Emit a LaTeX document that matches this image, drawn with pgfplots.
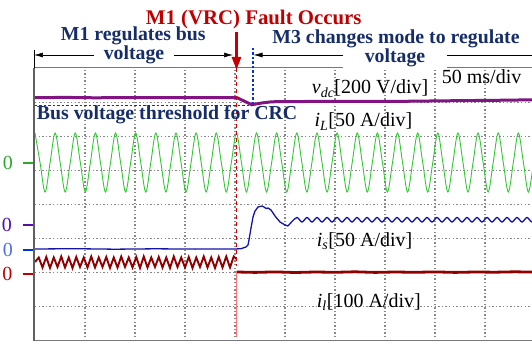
\documentclass[border=0pt]{standalone}
\usepackage{fontspec}
\setmainfont{Liberation Serif}
\usepackage{pgfplots}
\pgfplotsset{compat=1.18}
\usetikzlibrary{arrows.meta}
\definecolor{navy}{RGB}{22,45,105}
\definecolor{titlered}{RGB}{192,0,0}
\definecolor{vdccol}{RGB}{128,20,130}
\definecolor{ilcol}{RGB}{50,200,50}
\definecolor{iscol}{RGB}{20,20,170}
\definecolor{i1col}{RGB}{145,0,0}
\definecolor{thrcol}{RGB}{0,50,220}
\definecolor{framecol}{RGB}{120,120,120}
\definecolor{gridcol}{RGB}{135,135,135}
\newcommand{\lbl}{\fontsize{20}{24}\selectfont}
\newcommand{\hdr}{\bfseries\fontsize{19.8}{23}\selectfont}
\begin{document}
\begin{tikzpicture}
\useasboundingbox (-35pt,-2pt) rectangle (497pt,341pt);
\begin{axis}[
  at={(0,0)}, anchor=south west,
  x=1pt, y=1pt,
  xmin=0, xmax=497, ymin=0, ymax=273,
  axis line style={draw=none},
  xtick={50,100,150,200,250,300,350,400,450},
  ytick={34.125,68.25,102.375,136.5,170.625,204.75,238.875},
  xticklabels={}, yticklabels={},
  tick style={draw=none},
  grid=major,
  major grid style={draw=gridcol, line width=1.1pt, dash pattern=on 1.4pt off 2.2pt},
  clip mode=individual,
]
% i_L (green)
\addplot[ilcol, line width=0.9pt, smooth, tension=0.55] coordinates {
(0,208) (5.035,178.5) (10.07,149) (15.105,178.5) (20.14,208) (25.175,178.5) (30.21,149) (35.245,178.5)
(40.28,208) (45.315,178.5) (50.35,149) (55.385,178.5) (60.42,208) (65.455,178.5) (70.49,149) (75.525,178.5)
(80.56,208) (85.595,178.5) (90.63,149) (95.665,178.5) (100.7,208) (105.735,178.5) (110.77,149) (115.805,178.5)
(120.84,208) (125.875,178.5) (130.91,149) (135.945,178.5) (140.98,208) (146.015,178.5) (151.05,149) (156.085,178.5)
(161.12,208) (166.155,178.5) (171.19,149) (176.225,178.5) (181.26,208) (186.295,178.5) (191.33,149) (196.365,178.5)
(201.4,208) (206.435,178.5) (211.47,149) (216.505,178.5) (221.54,208) (226.575,178.5) (231.61,149) (236.645,178.5)
(241.68,208) (246.715,178.5) (251.75,149) (256.785,178.5) (261.82,208) (266.855,178.5) (271.89,149) (276.925,178.5)
(281.96,208) (286.995,178.5) (292.03,149) (297.065,178.5) (302.1,208) (307.135,178.5) (312.17,149) (317.205,178.5)
(322.24,208) (327.275,178.5) (332.31,149) (337.345,178.5) (342.38,208) (347.415,178.5) (352.45,149) (357.485,178.5)
(362.52,208) (367.555,178.5) (372.59,149) (377.625,178.5) (382.66,208) (387.695,178.5) (392.73,149) (397.765,178.5)
(402.8,208) (407.835,178.5) (412.87,149) (417.905,178.5) (422.94,208) (427.975,178.5) (433.01,149) (438.045,178.5)
(443.08,208) (448.115,178.5) (453.15,149) (458.185,178.5) (463.22,208) (468.255,178.5) (473.29,149) (478.325,178.5)
(483.36,208) (488.395,178.5) (493.43,149) (498.465,178.5)
};
% v_dc (purple)
\addplot[vdccol, line width=3pt] coordinates {
(0,243.3) (30,243.6) (60,243.2) (100,243.5) (140,243.3) (180,243.5) (201.7,243.4)
(209,240) (216.7,236.3) (222,237.2) (228,238.2) (235,239) (242,239.4)
(270,239.5) (320,239.6) (361,239.6) (420,240.3) (470,240.8) (497,241.2)
};
% i_s (blue)
\addplot[iscol, line width=1.3pt] coordinates {
(0,92) (40,92.3) (80,91.8) (120,92.2) (160,91.9) (200,92) (206,92.3) (208,93) (211,94) (213,96)
(214,101) (216,113) (218,124) (220,130) (223,134) (227,135) (229,134) (231,132.5) (233,133)
(236,131) (240,125) (245,119) (250,116) (253,115)
};
\addplot[iscol, line width=1.3pt, smooth, tension=0.5] coordinates {
(253,115) (257,119.5) (262,123.5) (267,119) (272,123.5) (277,119) (282,123.5) (287,119) (292,123.5) (297,119) (302,123.5)
(307,119) (312,123.5) (317,119) (322,123.5) (327,119) (332,123.5) (337,119) (342,123.5) (347,119) (352,123.5)
(357,119) (362,123.5) (367,119) (372,123.5) (377,119) (382,123.5) (387,119) (392,123.5) (397,119) (402,123.5)
(407,119) (412,123.5) (417,119) (422,123.5) (427,119) (432,123.5) (437,119) (442,123.5) (447,119) (452,123.5)
(457,119) (462,123.5) (467,119) (472,123.5) (477,119) (482,123.5) (487,119) (492,123.5) (497,119) (502,123.5)
};
% i_1 (dark red) before fault
\addplot[i1col, line width=1.9pt] coordinates {
(0,79) (3.75,83.5) (7.5,73.5) (11.25,84) (15,73) (18.75,83.5) (22.5,74) (26.25,84.5) (30,73.5)
(33.75,83.5) (37.5,73) (41.25,84) (45,74) (48.75,83.5) (52.5,73.5) (56.25,84.5) (60,73.5)
(63.75,83.5) (67.5,74) (71.25,84) (75,73) (78.75,83.5) (82.5,73.5) (86.25,84.5) (90,74)
(93.75,83.5) (97.5,73.5) (101.25,84) (105,73) (108.75,84.5) (112.5,73.5) (116.25,83.5) (120,74)
(123.75,84) (127.5,73.5) (131.25,83.5) (135,73) (138.75,84.5) (142.5,74) (146.25,83.5) (150,73.5)
(153.75,84) (157.5,73) (161.25,83.5) (165,74) (168.75,84.5) (172.5,73.5) (176.25,83.5) (180,73)
(183.75,84) (187.5,73.5) (191.25,84.5) (195,73.5) (198.75,84.5) (201.5,82)
};
% i_1 after fault
\addplot[i1col, line width=2.8pt] coordinates {
(201.6,69) (220,68.6) (240,69.1) (260,68.5) (280,69) (300,68.7) (320,69.2) (340,68.6) (360,69)
(380,68.7) (400,69.1) (420,68.6) (440,69) (460,68.8) (480,69.2) (497,68.9)
};
% frame
\draw[framecol, line width=1pt] (axis cs:-1,273) -- (axis cs:497,273);
\draw[framecol, line width=1pt] (axis cs:-1,0.3) -- (axis cs:497,0.3);
\draw[framecol!80!black, line width=1.6pt] (axis cs:-1,0) -- (axis cs:-1,273);
\draw[black, line width=0.6pt] (axis cs:-1,273) -- (axis cs:-1,291);
% zero markers
\draw[ilcol!85!black, line width=2.5pt] (axis cs:-12.3,178) -- (axis cs:-1.7,178);
\node[text=ilcol!85!black, font=\lbl, anchor=east] at (axis cs:-18.5,178) {0};
\draw[vdccol!70!blue, line width=2.5pt] (axis cs:-12.3,116) -- (axis cs:-1.7,116);
\node[text=vdccol!60!blue, font=\lbl, anchor=east] at (axis cs:-19.5,116) {0};
\draw[thrcol, line width=2.5pt] (axis cs:-12.3,91) -- (axis cs:-1.7,91);
\node[text=thrcol!70!white, font=\lbl, anchor=east] at (axis cs:-18.5,91) {0};
\draw[titlered, line width=2.5pt] (axis cs:-12.3,67) -- (axis cs:-1.7,67);
\node[text=titlered, font=\lbl, anchor=east] at (axis cs:-19,67) {0};
% threshold lines
\draw[thrcol, line width=1.6pt, dash pattern=on 2.5pt off 2pt] (axis cs:0,235.5) -- (axis cs:218,235.5);
\draw[thrcol, line width=1.6pt, dash pattern=on 2.5pt off 2pt] (axis cs:218,293) -- (axis cs:218,235.5);
% fault line
\draw[red!85!black, line width=0.7pt, dash pattern=on 4pt off 3pt] (axis cs:201.5,273) -- (axis cs:201.5,75);
\draw[red!55!white, line width=0.8pt] (axis cs:201.5,70) -- (axis cs:201.5,4);
% red arrow
\draw[titlered!90!red, line width=2.6pt, -{Triangle[width=9pt,length=13pt]}] (axis cs:201.5,309) -- (axis cs:201.5,271);
% dimension arrows
\draw[black, line width=0.6pt, {Latex[length=9pt,width=5pt]}-{Latex[length=9pt,width=5pt]}] (axis cs:-1,286) -- (axis cs:198,286);
\draw[black, line width=0.6pt, {Latex[length=9pt,width=5pt]}-] (axis cs:218.5,286) -- (axis cs:497,286);
% texts
\node[anchor=base, text=titlered, font=\bfseries\fontsize{20.8}{24}\selectfont] at (axis cs:218.7,316) {M1 (VRC) Fault Occurs};
\node[anchor=base, text=navy, font=\hdr] at (axis cs:98.3,300.3) {M1 regulates bus};
\node[anchor=base, text=navy, font=\hdr, fill=white, inner xsep=10pt, inner ysep=1pt] at (axis cs:99,281) {voltage};
\node[anchor=base, text=navy, font=\hdr] at (axis cs:361,297.7) {M3 changes mode to regulate};
\node[anchor=base, text=navy, font=\hdr, fill=white, inner xsep=22pt, inner ysep=1pt] at (axis cs:360,278.3) {voltage};
\node[anchor=base west, text=navy, font=\hdr, inner sep=0pt] at (axis cs:1.7,221) {Bus voltage threshold for CRC};
\node[anchor=base west, font=\lbl, inner sep=0pt] at (axis cs:276.7,247) {\textit{v}\textsubscript{\textit{dc}}[200 V/div]};
\node[anchor=base west, font=\lbl, inner sep=0pt] at (axis cs:406.7,257.7) {50 ms/div};
\node[anchor=base west, font=\lbl, inner sep=0pt] at (axis cs:279.3,214) {\textit{i}\textsubscript{\textit{L}}[50 A/div]};
\node[anchor=base west, font=\lbl, inner sep=0pt] at (axis cs:281.7,95) {\textit{i}\textsubscript{\textit{s}}[50 A/div]};
\node[anchor=base west, font=\lbl, inner sep=0pt] at (axis cs:281.7,33.7) {\textit{i}\textsubscript{\textit{l}}[100 A/div]};
\end{axis}
\end{tikzpicture}
\end{document}
